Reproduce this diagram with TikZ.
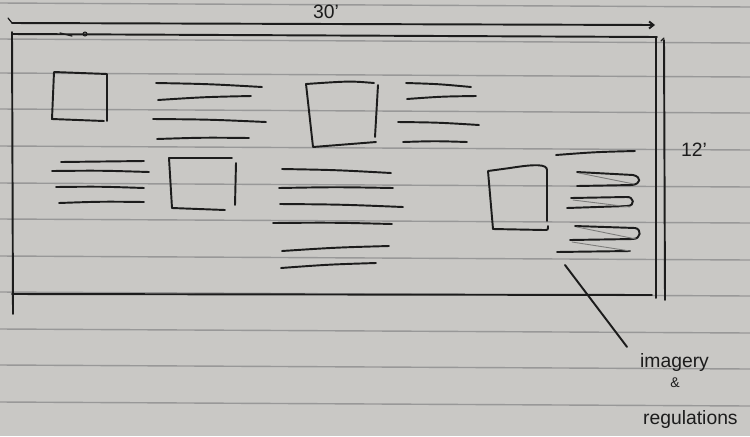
\documentclass[tikz,border=0pt]{standalone}
\usepackage{fontspec}
\setmainfont{Liberation Sans}
\usepackage{tikz}
\usetikzlibrary{arrows.meta, calc, positioning}
\definecolor{paper}{RGB}{201,200,197}
\definecolor{ruling}{RGB}{152,152,152}
\definecolor{ink}{RGB}{28,28,28}

\begin{document}
\begin{tikzpicture}[
      x=0.2mm, y=-0.2mm,
      pen/.style={draw=ink, line width=1.1pt, line cap=round, line join=round},
      faint/.style={draw=ink!45!paper, line width=0.5pt, line cap=round},
      rule/.style={draw=ruling, line width=0.8pt},
      note/.style={font=\fontsize{11}{13}\selectfont, text=ink, inner sep=1pt}]
    \useasboundingbox (0,0) rectangle (750,436);
    \fill[paper] (0,0) rectangle (750,436);
    % ruled paper
    \foreach \yy in {3,39,73,109,146,183,219,256,292,329,365,402}
      \draw[rule] (0,\yy) -- (750,\yy+4);

    % overall size
    \draw[pen, -{Straight Barb[length=2.5pt,width=4pt]}] (12,23) -- (655,25);
    \draw[pen, line width=0.7pt] (8,18) -- (12,23);
    \node[note] (len30) at (326,12) {30'};
    \node[note] (len12) at (694,150) {12'};

    % wall outline
    \draw[pen] (12,34) -- (657,37);
    \draw[pen] (12,32) -- (13,314);
    \draw[pen] (12,294) -- (652,295);
    \draw[pen] (656,37) -- (656,298);
    \draw[pen] (664,40) -- (665,300);
    \draw[pen, line width=0.7pt] (661,41) -- (664,38);
    \draw[pen, line width=0.7pt] (60,33) -- (72,36);
    \draw[pen, line width=0.6pt] (85,34) circle (2);

    % image boxes
    \draw[pen] (107,121) -- (107,74) -- (54,72) -- (52,119) -- (104,121);
    \draw[pen] (232,158) -- (169,158) -- (172,208) -- (225,210);
    \draw[pen] (236,163) -- (235,205);
    \draw[pen] (374,83) .. controls (350,81) .. (306,84) -- (313,147) -- (376,142);
    \draw[pen] (378,85) -- (375,137);
    \draw[pen] (547,221) -- (547,170) .. controls (547,164) and (535,164) .. (510,168)
      -- (488,171) -- (493,229) -- (544,230) .. controls (548,230) .. (548,226);

    % text lines
    \foreach \xa/\ya/\xb/\yb in {156/83/262/87, 158/100/251/96, 153/119/266/122, 157/139/249/138,
        406/83/471/87, 407/99/476/96, 398/122/479/125, 403/142/467/142,
        61/162/144/161, 52/171/149/172, 56/187/144/188, 59/203/144/202,
        282/169/391/173, 279/188/393/188, 280/204/403/207, 273/223/392/224,
        282/251/389/246, 281/268/376/263, 556/155/635/151}
      \draw[pen] (\xa,\ya) .. controls ($(\xa,\ya)!0.5!(\xb,\yb)+(0,-1)$) .. (\xb,\yb);

    % scribbled text beside the last image
    \draw[pen] (577,172) -- (633,175) .. controls (642,177) and (641,184) .. (632,185) -- (577,186);
    \draw[pen] (571,198) -- (626,197) .. controls (634,196) and (636,206) .. (627,206) -- (567,208);
    \draw[pen] (575,226) -- (635,228) .. controls (642,229) and (641,239) .. (633,239) -- (570,240);
    \draw[pen] (557,252) -- (630,251);
    \draw[faint] (579,173) -- (634,184);
    \draw[faint] (573,200) -- (630,207);
    \draw[faint] (577,227) -- (636,239);
    \draw[faint] (572,242) -- (630,251);

    % note
    \node[note, anchor=west] (imagery) at (638,362) {imagery};
    \node[note, font=\fontsize{8}{9}\selectfont] (amp) at (675,383) {\&};
    \node[note, anchor=west] (regs) at (641,419) {regulations};
    \coordinate (tail) at (565,265);
    \draw[pen] (tail) -- ($(imagery.north west)+(-11,-4)$);
  \end{tikzpicture}
\end{document}
